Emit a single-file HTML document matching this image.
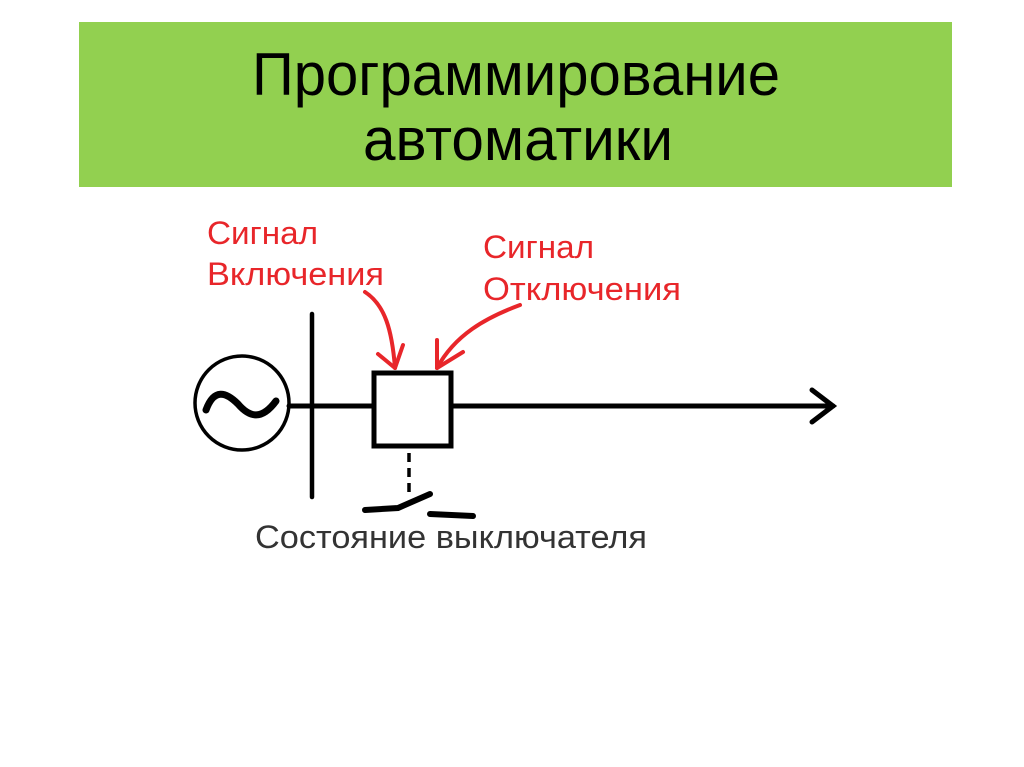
<!DOCTYPE html>
<html><head><meta charset="utf-8"><style>html,body{margin:0;padding:0;background:#fff}svg{display:block}</style></head>
<body>
<svg width="1024" height="767" viewBox="0 0 1024 767" xmlns="http://www.w3.org/2000/svg">
<rect x="79" y="22" width="873" height="165" fill="#92d050"/>
<g font-family="Liberation Sans, sans-serif" fill="#000">
<text x="252" y="95" font-size="60" textLength="528" lengthAdjust="spacingAndGlyphs">Программирование</text>
<text x="363" y="160" font-size="60" textLength="310" lengthAdjust="spacingAndGlyphs">автоматики</text>
</g>
<g font-family="Liberation Sans, sans-serif" fill="#e8262a" font-size="32">
<text x="207" y="244" textLength="111" lengthAdjust="spacingAndGlyphs">Сигнал</text>
<text x="207" y="285" textLength="177" lengthAdjust="spacingAndGlyphs">Включения</text>
<text x="483" y="258" textLength="111" lengthAdjust="spacingAndGlyphs">Сигнал</text>
<text x="483" y="300" textLength="198" lengthAdjust="spacingAndGlyphs">Отключения</text>
</g>
<text x="255" y="548" font-family="Liberation Sans, sans-serif" font-size="32" fill="#333" textLength="392" lengthAdjust="spacingAndGlyphs">Состояние выключателя</text>
<g fill="none" stroke="#e8262a" stroke-width="4" stroke-linecap="round" stroke-linejoin="round">
<path d="M365 292 C385 305 392 330 395 368"/>
<path d="M378 354 L395 368 L403 345"/>
<path d="M520 305 C485 318 455 335 437 368"/>
<path d="M437 340 L437 368 L463 352"/>
</g>
<g fill="none" stroke="#000" stroke-linecap="round">
<circle cx="242" cy="403" r="47" stroke-width="3.5"/>
<path d="M206 410 C214 388 226 392 238 404 C250 418 262 420 276 401" stroke-width="7"/>
<line x1="312" y1="314" x2="312" y2="497" stroke-width="4.5"/>
<line x1="289" y1="406" x2="374" y2="406" stroke-width="5"/>
<rect x="374" y="373" width="77" height="73" stroke-width="5"/>
<line x1="451" y1="406" x2="833" y2="406" stroke-width="5"/>
<path d="M812 390 L833 406 L812 422" stroke-width="5"/>
<line x1="409" y1="453" x2="409" y2="495" stroke-width="3.5" stroke-dasharray="9 6" stroke-linecap="butt"/>
<path d="M365 510 L398 508 L430 494" stroke-width="6"/>
<line x1="430" y1="514" x2="473" y2="516" stroke-width="6"/>
</g>
</svg>
</body></html>
